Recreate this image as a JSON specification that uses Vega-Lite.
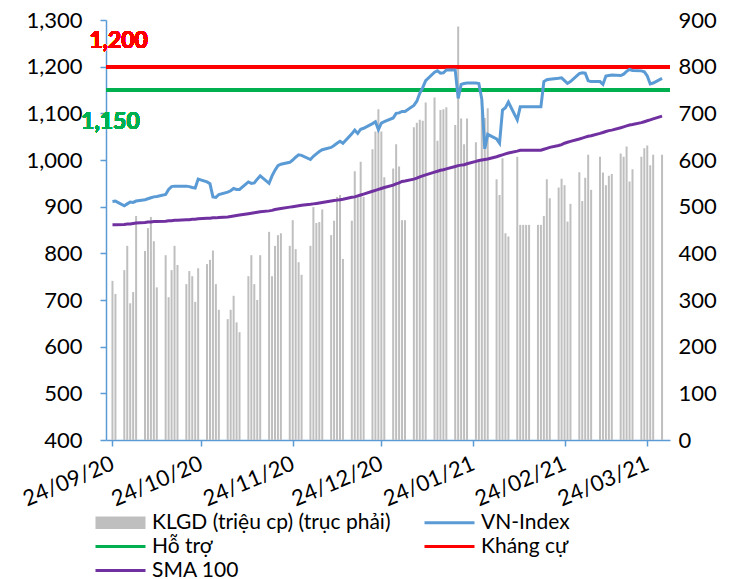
{
  "$schema": "https://vega.github.io/schema/vega-lite/v6.json",
  "width": 564,
  "height": 420,
  "autosize": {"type": "none"},
  "padding": {"left": 106, "top": 20, "right": 75, "bottom": 139},
  "background": "#ffffff",
  "config": {
    "font": "Lato",
    "view": {"stroke": null},
    "axis": {"labelFont": "Lato", "labelFontSize": 22, "labelColor": "#000000", "grid": false, "title": null}
  },
  "data": {
    "values": [
      {"date":"2020-09-24","vol":341,"vni":911,"sma":861},
      {"date":"2020-09-25","vol":313,"vni":912,"sma":861},
      {"date":"2020-09-28","vol":364,"vni":902,"sma":862},
      {"date":"2020-09-29","vol":416,"vni":906,"sma":863},
      {"date":"2020-09-30","vol":293,"vni":910,"sma":863},
      {"date":"2020-10-01","vol":317,"vni":909,"sma":864},
      {"date":"2020-10-02","vol":480,"vni":912,"sma":865},
      {"date":"2020-10-05","vol":405,"vni":915,"sma":866},
      {"date":"2020-10-06","vol":454,"vni":917,"sma":867},
      {"date":"2020-10-07","vol":478,"vni":919,"sma":867},
      {"date":"2020-10-08","vol":426,"vni":921,"sma":868},
      {"date":"2020-10-09","vol":327,"vni":922,"sma":868},
      {"date":"2020-10-12","vol":396,"vni":926,"sma":869},
      {"date":"2020-10-13","vol":306,"vni":937,"sma":870},
      {"date":"2020-10-14","vol":364,"vni":943,"sma":870},
      {"date":"2020-10-15","vol":416,"vni":944,"sma":871},
      {"date":"2020-10-16","vol":375,"vni":944,"sma":871},
      {"date":"2020-10-19","vol":334,"vni":944,"sma":872},
      {"date":"2020-10-20","vol":362,"vni":943,"sma":872},
      {"date":"2020-10-21","vol":351,"vni":941,"sma":873},
      {"date":"2020-10-22","vol":296,"vni":940,"sma":873},
      {"date":"2020-10-23","vol":368,"vni":959,"sma":874},
      {"date":"2020-10-26","vol":377,"vni":953,"sma":875},
      {"date":"2020-10-27","vol":386,"vni":949,"sma":875},
      {"date":"2020-10-28","vol":406,"vni":921,"sma":876},
      {"date":"2020-10-29","vol":334,"vni":920,"sma":876},
      {"date":"2020-10-30","vol":279,"vni":926,"sma":877},
      {"date":"2020-11-02","vol":259,"vni":931,"sma":878},
      {"date":"2020-11-03","vol":279,"vni":934,"sma":879},
      {"date":"2020-11-04","vol":309,"vni":939,"sma":880},
      {"date":"2020-11-05","vol":252,"vni":937,"sma":881},
      {"date":"2020-11-06","vol":231,"vni":937,"sma":882},
      {"date":"2020-11-09","vol":351,"vni":953,"sma":885},
      {"date":"2020-11-10","vol":396,"vni":950,"sma":886},
      {"date":"2020-11-11","vol":334,"vni":951,"sma":887},
      {"date":"2020-11-12","vol":300,"vni":959,"sma":888},
      {"date":"2020-11-13","vol":396,"vni":966,"sma":889},
      {"date":"2020-11-16","vol":446,"vni":950,"sma":891},
      {"date":"2020-11-17","vol":351,"vni":966,"sma":892},
      {"date":"2020-11-18","vol":416,"vni":978,"sma":894},
      {"date":"2020-11-19","vol":439,"vni":988,"sma":895},
      {"date":"2020-11-20","vol":443,"vni":991,"sma":896},
      {"date":"2020-11-23","vol":416,"vni":995,"sma":899},
      {"date":"2020-11-24","vol":471,"vni":1000,"sma":900},
      {"date":"2020-11-25","vol":409,"vni":1006,"sma":901},
      {"date":"2020-11-26","vol":381,"vni":1011,"sma":902},
      {"date":"2020-11-27","vol":354,"vni":1010,"sma":903},
      {"date":"2020-11-30","vol":416,"vni":1001,"sma":905},
      {"date":"2020-12-01","vol":499,"vni":1008,"sma":906},
      {"date":"2020-12-02","vol":465,"vni":1013,"sma":907},
      {"date":"2020-12-03","vol":467,"vni":1018,"sma":908},
      {"date":"2020-12-04","vol":494,"vni":1022,"sma":909},
      {"date":"2020-12-07","vol":439,"vni":1027,"sma":912},
      {"date":"2020-12-08","vol":470,"vni":1031,"sma":913},
      {"date":"2020-12-09","vol":521,"vni":1036,"sma":914},
      {"date":"2020-12-10","vol":525,"vni":1040,"sma":915},
      {"date":"2020-12-11","vol":388,"vni":1036,"sma":916},
      {"date":"2020-12-14","vol":470,"vni":1056,"sma":920},
      {"date":"2020-12-15","vol":576,"vni":1064,"sma":921},
      {"date":"2020-12-16","vol":521,"vni":1057,"sma":923},
      {"date":"2020-12-17","vol":596,"vni":1066,"sma":925},
      {"date":"2020-12-18","vol":521,"vni":1068,"sma":927},
      {"date":"2020-12-21","vol":623,"vni":1078,"sma":933},
      {"date":"2020-12-22","vol":661,"vni":1082,"sma":935},
      {"date":"2020-12-23","vol":709,"vni":1065,"sma":937},
      {"date":"2020-12-24","vol":661,"vni":1079,"sma":939},
      {"date":"2020-12-25","vol":563,"vni":1082,"sma":941},
      {"date":"2020-12-28","vol":582,"vni":1090,"sma":946},
      {"date":"2020-12-29","vol":634,"vni":1100,"sma":949},
      {"date":"2020-12-30","vol":586,"vni":1101,"sma":951},
      {"date":"2020-12-31","vol":471,"vni":1104,"sma":954},
      {"date":"2021-01-01","vol":471,"vni":1104,"sma":955},
      {"date":"2021-01-04","vol":670,"vni":1117,"sma":959},
      {"date":"2021-01-05","vol":680,"vni":1126,"sma":961},
      {"date":"2021-01-06","vol":686,"vni":1143,"sma":964},
      {"date":"2021-01-07","vol":684,"vni":1155,"sma":966},
      {"date":"2021-01-08","vol":723,"vni":1170,"sma":968},
      {"date":"2021-01-11","vol":734,"vni":1188,"sma":974},
      {"date":"2021-01-12","vol":641,"vni":1191,"sma":976},
      {"date":"2021-01-13","vol":707,"vni":1186,"sma":978},
      {"date":"2021-01-14","vol":709,"vni":1187,"sma":979},
      {"date":"2021-01-15","vol":713,"vni":1193,"sma":981},
      {"date":"2021-01-18","vol":675,"vni":1193,"sma":986},
      {"date":"2021-01-19","vol":886,"vni":1132,"sma":988},
      {"date":"2021-01-20","vol":689,"vni":1162,"sma":989},
      {"date":"2021-01-21","vol":634,"vni":1164,"sma":990},
      {"date":"2021-01-22","vol":689,"vni":1165,"sma":992},
      {"date":"2021-01-25","vol":638,"vni":1165,"sma":997},
      {"date":"2021-01-26","vol":600,"vni":1164,"sma":999},
      {"date":"2021-01-27","vol":729,"vni":1130,"sma":1000},
      {"date":"2021-01-28","vol":690,"vni":1024,"sma":1001},
      {"date":"2021-01-29","vol":711,"vni":1055,"sma":1002},
      {"date":"2021-02-01","vol":559,"vni":1045,"sma":1007},
      {"date":"2021-02-02","vol":525,"vni":1036,"sma":1009},
      {"date":"2021-02-03","vol":604,"vni":1107,"sma":1011},
      {"date":"2021-02-04","vol":443,"vni":1112,"sma":1013},
      {"date":"2021-02-05","vol":436,"vni":1124,"sma":1015},
      {"date":"2021-02-08","vol":607,"vni":1086,"sma":1019},
      {"date":"2021-02-09","vol":461,"vni":1114,"sma":1021},
      {"date":"2021-02-10","vol":461,"vni":1114,"sma":1021},
      {"date":"2021-02-11","vol":461,"vni":1114,"sma":1021},
      {"date":"2021-02-12","vol":461,"vni":1114,"sma":1021},
      {"date":"2021-02-15","vol":461,"vni":1114,"sma":1021},
      {"date":"2021-02-16","vol":461,"vni":1114,"sma":1021},
      {"date":"2021-02-17","vol":480,"vni":1168,"sma":1023},
      {"date":"2021-02-18","vol":559,"vni":1172,"sma":1025},
      {"date":"2021-02-19","vol":518,"vni":1173,"sma":1027},
      {"date":"2021-02-22","vol":541,"vni":1175,"sma":1031},
      {"date":"2021-02-23","vol":560,"vni":1176,"sma":1033},
      {"date":"2021-02-24","vol":546,"vni":1170,"sma":1036},
      {"date":"2021-02-25","vol":468,"vni":1164,"sma":1038},
      {"date":"2021-02-26","vol":506,"vni":1168,"sma":1040},
      {"date":"2021-03-01","vol":574,"vni":1185,"sma":1045},
      {"date":"2021-03-02","vol":512,"vni":1187,"sma":1047},
      {"date":"2021-03-03","vol":562,"vni":1186,"sma":1049},
      {"date":"2021-03-04","vol":611,"vni":1170,"sma":1051},
      {"date":"2021-03-05","vol":536,"vni":1168,"sma":1052},
      {"date":"2021-03-08","vol":607,"vni":1168,"sma":1057},
      {"date":"2021-03-09","vol":573,"vni":1162,"sma":1059},
      {"date":"2021-03-10","vol":546,"vni":1180,"sma":1061},
      {"date":"2021-03-11","vol":566,"vni":1181,"sma":1063},
      {"date":"2021-03-12","vol":570,"vni":1182,"sma":1064},
      {"date":"2021-03-15","vol":614,"vni":1181,"sma":1069},
      {"date":"2021-03-16","vol":607,"vni":1184,"sma":1071},
      {"date":"2021-03-17","vol":629,"vni":1190,"sma":1073},
      {"date":"2021-03-18","vol":554,"vni":1194,"sma":1075},
      {"date":"2021-03-19","vol":580,"vni":1192,"sma":1076},
      {"date":"2021-03-22","vol":607,"vni":1191,"sma":1080},
      {"date":"2021-03-23","vol":625,"vni":1189,"sma":1082},
      {"date":"2021-03-24","vol":631,"vni":1180,"sma":1084},
      {"date":"2021-03-25","vol":589,"vni":1163,"sma":1086},
      {"date":"2021-03-26","vol":611,"vni":1165,"sma":1088},
      {"date":"2021-03-29","vol":611,"vni":1175,"sma":1094}
    ]
  },
  "layer": [
    {
      "mark": {"type": "bar", "width": 2},
      "encoding": {
        "x": {
          "field": "date", "type": "temporal",
          "scale": {"type": "utc", "domain": [{"year": 2020, "month": 9, "date": 23, "hours": 12, "utc": true}, {"year": 2021, "month": 3, "date": 30, "utc": true}]},
          "axis": {
            "values": [
              {"year": 2020, "month": 9, "date": 24, "utc": true},
              {"year": 2020, "month": 10, "date": 24, "utc": true},
              {"year": 2020, "month": 11, "date": 24, "utc": true},
              {"year": 2020, "month": 12, "date": 24, "utc": true},
              {"year": 2021, "month": 1, "date": 24, "utc": true},
              {"year": 2021, "month": 2, "date": 24, "utc": true},
              {"year": 2021, "month": 3, "date": 24, "utc": true}
            ],
            "format": "%d/%m/%y",
            "labelFontSize": 22,
            "labelAngle": -23,
            "labelAlign": "right",
            "labelBaseline": "middle",
            "labelPadding": 16,
            "labelOverlap": false,
            "labelFlush": false,
            "domainColor": "#5b9bd5",
            "domainWidth": 1.5,
            "tickColor": "#5b9bd5",
            "tickWidth": 1.5,
            "tickSize": 6
          }
        },
        "y": {
          "field": "vol", "type": "quantitative",
          "scale": {"domain": [0, 900], "nice": false},
          "axis": {"orient": "right", "values": [0, 100, 200, 300, 400, 500, 600, 700, 800, 900], "format": "d", "domain": false, "ticks": false, "labelPadding": 8}
        },
        "color": {
          "datum": "KLGD (triệu cp) (trục phải)", "type": "nominal",
          "scale": {
            "domain": ["KLGD (triệu cp) (trục phải)", "VN-Index", "Hỗ trợ", "Kháng cự", "SMA 100"],
            "range": ["#bfbfbf", "#5b9bd5", "#00b050", "#ff0000", "#7030a0"]
          },
          "legend": {
            "title": null,
            "orient": "none",
            "direction": "horizontal",
            "legendX": 4,
            "legendY": 492,
            "padding": 0,
            "columns": 2,
            "columnPadding": 27,
            "rowPadding": 2,
            "symbolType": "M-4,0H4",
            "symbolSize": 156.25,
            "symbolStrokeWidth": 3,
            "labelOffset": 21,
            "labelFont": "Lato",
            "labelFontSize": 21,
            "labelColor": "#000000",
            "labelLimit": 400,
            "encode": {
              "symbols": {
                "update": {
                  "shape": {"signal": "datum.value === 'KLGD (triệu cp) (trục phải)' ? 'M-4,-1H4V1H-4Z' : 'M-4,0H4'"},
                  "fill": {"scale": "color", "field": "value"},
                  "stroke": {"scale": "color", "field": "value"},
                  "strokeWidth": {"signal": "datum.value === 'KLGD (triệu cp) (trục phải)' ? 0 : 3"}
                }
              }
            }
          }
        }
      }
    },
    {
      "layer": [
        {
          "mark": {"type": "rule", "strokeWidth": 3},
          "encoding": {
            "y": {"datum": 1150, "type": "quantitative", "scale": {"domain": [400, 1300], "nice": false},
              "axis": {"orient": "left", "values": [400, 500, 600, 700, 800, 900, 1000, 1100, 1200, 1300], "format": ",.0f", "domainColor": "#5b9bd5", "domainWidth": 1.5, "tickColor": "#5b9bd5", "tickWidth": 1.5, "tickSize": 6, "labelPadding": 18}},
            "color": {"datum": "Hỗ trợ", "type": "nominal"}
          }
        },
        {
          "mark": {"type": "rule", "strokeWidth": 3},
          "encoding": {
            "y": {"datum": 1200, "type": "quantitative"},
            "color": {"datum": "Kháng cự", "type": "nominal"}
          }
        },
        {
          "mark": {"type": "line", "strokeWidth": 3},
          "encoding": {
            "x": {"field": "date", "type": "temporal"},
            "y": {"field": "sma", "type": "quantitative"},
            "color": {"datum": "SMA 100", "type": "nominal"}
          }
        },
        {
          "mark": {"type": "line", "strokeWidth": 3},
          "encoding": {
            "x": {"field": "date", "type": "temporal"},
            "y": {"field": "vni", "type": "quantitative"},
            "color": {"datum": "VN-Index", "type": "nominal"}
          }
        },
        {
          "mark": {"type": "text", "text": "1,200", "color": "#ff0000", "font": "Lato", "fontSize": 23, "fontWeight": "bold", "align": "right", "baseline": "middle"},
          "encoding": {
            "x": {"datum": {"year": 2020, "month": 10, "date": 6, "hours": 0, "utc": true}, "type": "temporal"},
            "y": {"datum": 1254, "type": "quantitative"}
          }
        },
        {
          "mark": {"type": "text", "text": "1,150", "color": "#00b050", "font": "Lato", "fontSize": 23, "fontWeight": "bold", "align": "right", "baseline": "middle"},
          "encoding": {
            "x": {"datum": {"year": 2020, "month": 10, "date": 3, "hours": 6, "utc": true}, "type": "temporal"},
            "y": {"datum": 1082, "type": "quantitative"}
          }
        }
      ]
    }
  ],
  "resolve": {"scale": {"y": "independent"}}
}
